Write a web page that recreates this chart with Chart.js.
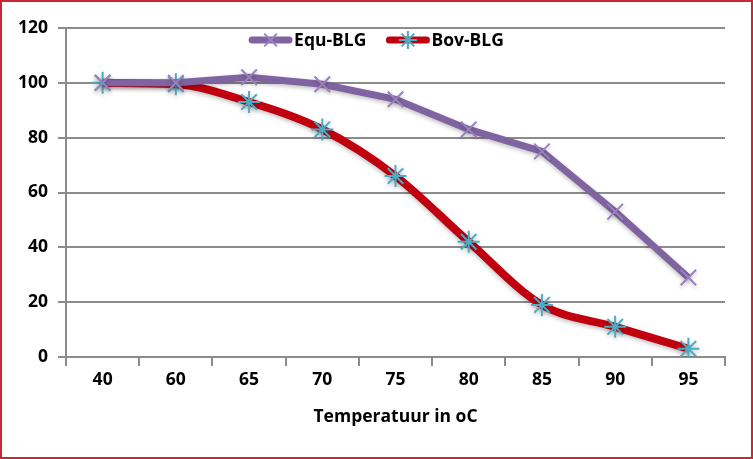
<!DOCTYPE html>
<html>
<head>
<meta charset="utf-8">
<script src="https://cdn.jsdelivr.net/npm/chart.js@4.4.1/dist/chart.umd.min.js"></script>
<style>
  html, body { margin: 0; padding: 0; background: #fff; }
  #kader { width: 753px; height: 459px; box-sizing: border-box; border: 2px solid #c42a36; }
  #grafiek { display: block; }
</style>
</head>
<body>
<div id="kader"><canvas id="grafiek" width="749" height="455"></canvas></div>
<script>
// temperaturen (categorieën)
const temperaturen = ["40", "60", "65", "70", "75", "80", "85", "90", "95"];
// resterende activiteit per serie
const equBLG = [100, 100, 102, 99.5, 94, 83, 75, 53, 29];
const bovBLG = [100, 99.5, 93, 83, 66, 42, 19, 11, 3];
const yTicks = [0, 20, 40, 60, 80, 100, 120];

const paars = "#8064a2";
const rood = "#c0000f";
const cyaan = "#4bacc6";
const font = { family: "Open Sans", weight: "bold", size: 17.5 };

// legenda binnen het grafiekvlak, bovenaan gecentreerd
const legendaBinnen = {
  id: "legendaBinnen",
  afterDraw(chart) {
    const ctx = chart.ctx;
    const sets = chart.data.datasets;
    const lijn = 43, gat = 2, tussen = 20;
    ctx.save();
    ctx.font = Chart.helpers.toFont(font).string;
    const breedtes = sets.map(ds => lijn + gat + ctx.measureText(ds.label).width);
    const totaal = breedtes.reduce((a, b) => a + b, 0) + tussen * (sets.length - 1);
    let x = chart.width / 2 - totaal / 2;
    const y = chart.chartArea.top + 12;
    sets.forEach((ds, i) => {
      ctx.strokeStyle = ds.borderColor;
      ctx.lineWidth = 7;
      ctx.lineCap = "round";
      ctx.beginPath();
      ctx.moveTo(x + 3, y);
      ctx.lineTo(x + lijn - 3, y);
      ctx.stroke();
      ctx.strokeStyle = ds.pointBorderColor;
      ctx.lineWidth = 2;
      ctx.lineCap = "butt";
      Chart.helpers.drawPoint(ctx, {
        pointStyle: ds.pointStyle,
        radius: 9,
        rotation: 0,
        borderWidth: 2
      }, x + lijn / 2, y);
      ctx.fillStyle = "#000";
      ctx.textBaseline = "middle";
      ctx.textAlign = "left";
      ctx.fillText(ds.label, x + lijn + gat, y + 1);
      x += breedtes[i] + tussen;
    });
    ctx.restore();
  }
};

// lichte schaduw onder de markers
const schaduw = {
  id: "schaduw",
  beforeDatasetDraw(chart) {
    chart.ctx.save();
    chart.ctx.shadowColor = "rgba(0,0,0,0.25)";
    chart.ctx.shadowBlur = 4;
    chart.ctx.shadowOffsetY = 2;
  },
  afterDatasetDraw(chart) {
    chart.ctx.restore();
  }
};

new Chart(document.getElementById("grafiek"), {
  type: "line",
  data: {
    labels: temperaturen,
    datasets: [
      {
        label: "Equ-BLG",
        data: equBLG,
        borderColor: paars,
        backgroundColor: paars,
        borderWidth: 7,
        tension: 0,
        pointStyle: "crossRot",
        pointRadius: 11,
        pointBorderColor: "#9a82bd",
        pointBorderWidth: 2
      },
      {
        label: "Bov-BLG",
        data: bovBLG,
        borderColor: rood,
        backgroundColor: rood,
        borderWidth: 8,
        cubicInterpolationMode: "monotone",
        pointStyle: "star",
        pointRadius: 11,
        pointBorderColor: cyaan,
        pointBorderWidth: 2
      }
    ]
  },
  options: {
    responsive: false,
    animation: false,
    layout: { padding: { top: 26, right: 26, left: 6, bottom: 25 } },
    plugins: {
      tooltip: { enabled: false },
      legend: { display: false }
    },
    scales: {
      x: {
        offset: true,
        grid: {
          drawOnChartArea: false,
          drawTicks: true,
          offset: true,
          tickLength: 9,
          color: "#8c8c8c",
          lineWidth: 2
        },
        border: { color: "#8c8c8c", width: 2 },
        ticks: { font: font, color: "#000", padding: 4 },
        title: {
          display: true,
          text: "Temperatuur in oC",
          font: font,
          color: "#000",
          padding: { top: 12 }
        }
      },
      y: {
        min: 0,
        max: 120,
        afterBuildTicks(axis) {
          axis.ticks = yTicks.map(v => ({ value: v }));
        },
        grid: {
          color: "#8c8c8c",
          lineWidth: 2,
          tickLength: 8
        },
        border: { color: "#8c8c8c", width: 2 },
        ticks: { font: font, color: "#000", padding: 10 }
      }
    }
  },
  plugins: [schaduw, legendaBinnen]
});
</script>
</body>
</html>
